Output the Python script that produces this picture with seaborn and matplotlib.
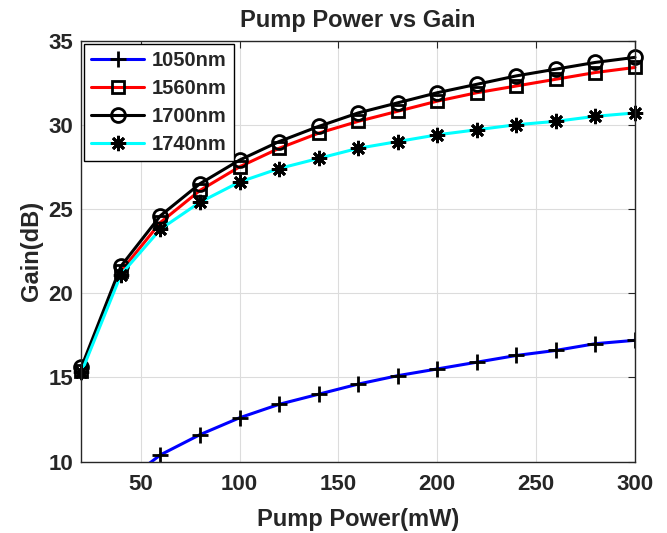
import matplotlib
matplotlib.use("Agg")
import matplotlib.pyplot as plt
import seaborn as sns
import pandas as pd

# pump power (mW) and gain (dB) per signal wavelength
pump_power = [20, 40, 60, 80, 100, 120, 140, 160, 180, 200, 220, 240, 260, 280, 300]
gain_1050 = [4.0, 8.6, 10.4, 11.6, 12.6, 13.4, 14.0, 14.6, 15.1, 15.5, 15.9, 16.3, 16.6, 17.0, 17.2]
gain_1560 = [15.4, 21.3, 24.2, 26.1, 27.5, 28.6, 29.5, 30.2, 30.8, 31.4, 31.9, 32.3, 32.7, 33.1, 33.4]
gain_1700 = [15.6, 21.6, 24.6, 26.5, 27.9, 29.0, 29.9, 30.7, 31.3, 31.9, 32.4, 32.9, 33.3, 33.7, 34.0]
gain_1740 = [15.3, 21.1, 23.8, 25.4, 26.6, 27.4, 28.0, 28.6, 29.0, 29.4, 29.7, 30.0, 30.2, 30.5, 30.7]

series = {"1050nm": gain_1050, "1560nm": gain_1560, "1700nm": gain_1700, "1740nm": gain_1740}
colors = {"1050nm": "#0000ff", "1560nm": "#ff0000", "1700nm": "#000000", "1740nm": "#00ffff"}
# matlab style markers: plus, square, circle, asterisk (8 spokes)
markers = {"1050nm": "+", "1560nm": "s", "1700nm": "o", "1740nm": (8, 2, 0)}
msizes = {"1050nm": 12, "1560nm": 9, "1700nm": 10, "1740nm": 11}

x_ticks = [50, 100, 150, 200, 250, 300]
y_ticks = [10, 15, 20, 25, 30, 35]

rows = []
for name, vals in series.items():
	for p, g in zip(pump_power, vals):
		rows.append({"power": p, "gain": g, "wavelength": name})
df = pd.DataFrame(rows)

sns.set_style("white")
plt.rcParams['font.family'] = ['Liberation Sans', 'DejaVu Sans']
plt.rcParams['font.weight'] = 'bold'

fig = plt.figure(figsize=(6.67, 5.33), dpi=100)
ax = fig.add_axes([0.122, 0.134, 0.830, 0.790])

for name in series:
	sub = df[df.wavelength == name]
	face = "none" if markers[name] in ("o", "s") else "black"
	sns.lineplot(data=sub, x="power", y="gain", ax=ax, color=colors[name], label=name,
		marker=markers[name], markersize=msizes[name],
		markeredgecolor="black", markerfacecolor=face, markeredgewidth=2.0,
		linewidth=2.2, estimator=None, sort=False, clip_on=(name == "1050nm"))

ax.set_xlim(20, 300)
ax.set_ylim(10, 35)
ax.set_xticks(x_ticks)
ax.set_yticks(y_ticks)
ax.grid(True, color="#dcdcdc", linewidth=0.8)
ax.set_axisbelow(True)
ax.tick_params(direction="in", length=5, width=0.8, colors="#262626", labelsize=16,
	top=True, right=True, labeltop=False, labelright=False)
ax.tick_params(axis="x", pad=9)
ax.tick_params(axis="y", pad=6)
for lab in ax.get_xticklabels() + ax.get_yticklabels():
	lab.set_fontweight("bold")
	lab.set_color("#262626")
for s in ax.spines.values():
	s.set_visible(True)
	s.set_color("#262626")
	s.set_linewidth(1.0)

ax.set_xlabel("Pump Power(mW)", fontsize=17, fontweight="bold", color="#262626", labelpad=9)
ax.set_ylabel("Gain(dB)", fontsize=17, fontweight="bold", color="#262626", labelpad=4)
ax.set_title("Pump Power vs Gain", fontsize=17, fontweight="bold", pad=10)

leg = ax.legend(loc="upper left", fontsize=14.5, frameon=True, fancybox=False, framealpha=1,
	edgecolor="black", handlelength=2.6, borderpad=0.35, labelspacing=0.45, handletextpad=0.4,
	borderaxespad=0.15)
leg.get_frame().set_linewidth(1.0)
for t in leg.get_texts():
	t.set_fontweight("bold")

fig.savefig("out.png", dpi=100)
